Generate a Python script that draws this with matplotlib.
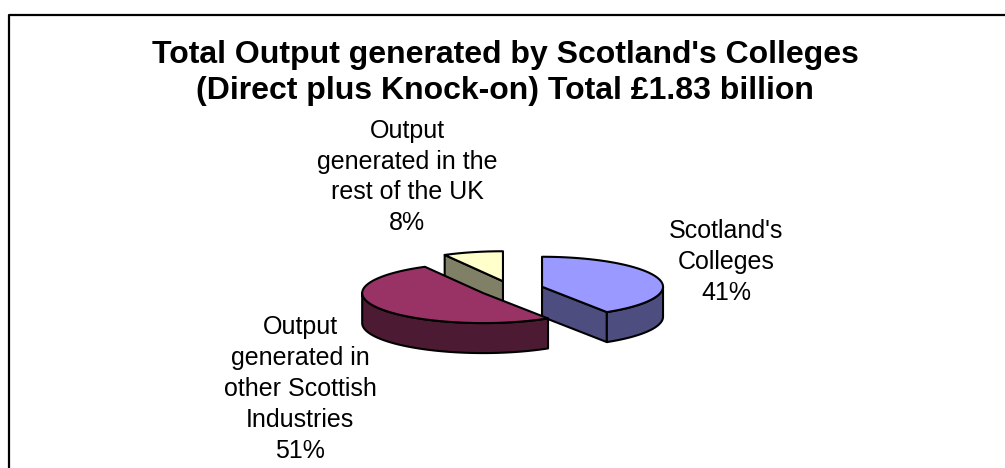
import numpy as np
import matplotlib.pyplot as plt
from matplotlib.patches import Polygon

plt.rcParams['font.family'] = ['Liberation Sans', 'DejaVu Sans']

# данные круговой диаграммы
labels = ["Scotland's\nColleges",
          "Output\ngenerated in\nother Scottish\nIndustries",
          "Output\ngenerated in the\nrest of the UK"]
shares = [41, 51, 8]
title = "Total Output generated by Scotland's Colleges\n(Direct plus Knock-on) Total £1.83 billion"

# цвета верхних граней
top_colors = ['#9999FF', '#993366', '#FFFFCC']

# геометрия "объёмного" пирога (в пикселях)
CX, CY = 511, 289
RX, RY = 121, 30
DEPTH = 30
EXPLODE = 0.267

# позиции подписей
label_pos = [(726, 262), (300, 389), (407, 177)]


def ell(cx, cy, a):
    # точка на эллипсе, угол отсчитывается от 12 часов по часовой стрелке
    return cx + RX * np.sin(a), cy - RY * np.cos(a)


def arc(cx, cy, a1, a2, n=80):
    t = np.linspace(a1, a2, n)
    x, y = ell(cx, cy, t)
    return np.column_stack([x, y])


def darker(c, k=0.5):
    r, g, b = plt.matplotlib.colors.to_rgb(c)
    return (r * k, g * k, b * k)


fig = plt.figure(figsize=(10.05, 4.68), dpi=100)
ax = fig.add_axes([0, 0, 1, 1])
ax.set_xlim(0, 1005)
ax.set_ylim(468, 0)
ax.axis('off')

# рамка области диаграммы
ax.plot([9, 9, 1005], [468, 15, 15], color='black', lw=1.6, solid_capstyle='butt')

ax.text(505, 73, title, ha='center', va='center', fontsize=23, fontweight='bold',
        linespacing=1.22)

total = sum(shares)
bounds = np.cumsum([0] + shares) / total * 2 * np.pi

slices = []
for i in range(len(shares)):
    a1, a2 = bounds[i], bounds[i + 1]
    mid = (a1 + a2) / 2
    cx = CX + EXPLODE * RX * np.sin(mid)
    cy = CY - EXPLODE * RY * np.cos(mid)
    slices.append((cy, cx, a1, a2, top_colors[i]))

# рисуем от дальних секторов к ближним
for cy, cx, a1, a2, col in sorted(slices):
    side = darker(col)
    kw = dict(edgecolor='black', lw=1.5, joinstyle='round')

    # боковые (радиальные) грани
    for a, sgn in ((a1, -1), (a2, 1)):
        if np.cos(a + sgn * np.pi / 2) < -1e-6:
            px, py = ell(cx, cy, a)
            quad = [(cx, cy), (px, py), (px, py + DEPTH), (cx, cy + DEPTH)]
            ax.add_patch(Polygon(quad, closed=True, facecolor=side, **kw))

    # передняя часть внешней стенки
    lo, hi = max(a1, np.pi / 2), min(a2, 3 * np.pi / 2)
    if hi > lo:
        up = arc(cx, cy, lo, hi)
        down = up[::-1] + [0, DEPTH]
        ax.add_patch(Polygon(np.vstack([up, down]), closed=True, facecolor=side, **kw))

    # верхняя грань
    top = np.vstack([[cx, cy], arc(cx, cy, a1, a2)])
    ax.add_patch(Polygon(top, closed=True, facecolor=col, **kw))

# подписи секторов
for lab, val, (x, y) in zip(labels, shares, label_pos):
    ax.text(x, y, f"{lab}\n{val}%", ha='center', va='center', fontsize=18,
            linespacing=1.36)

fig.savefig('out.png', dpi=100)
